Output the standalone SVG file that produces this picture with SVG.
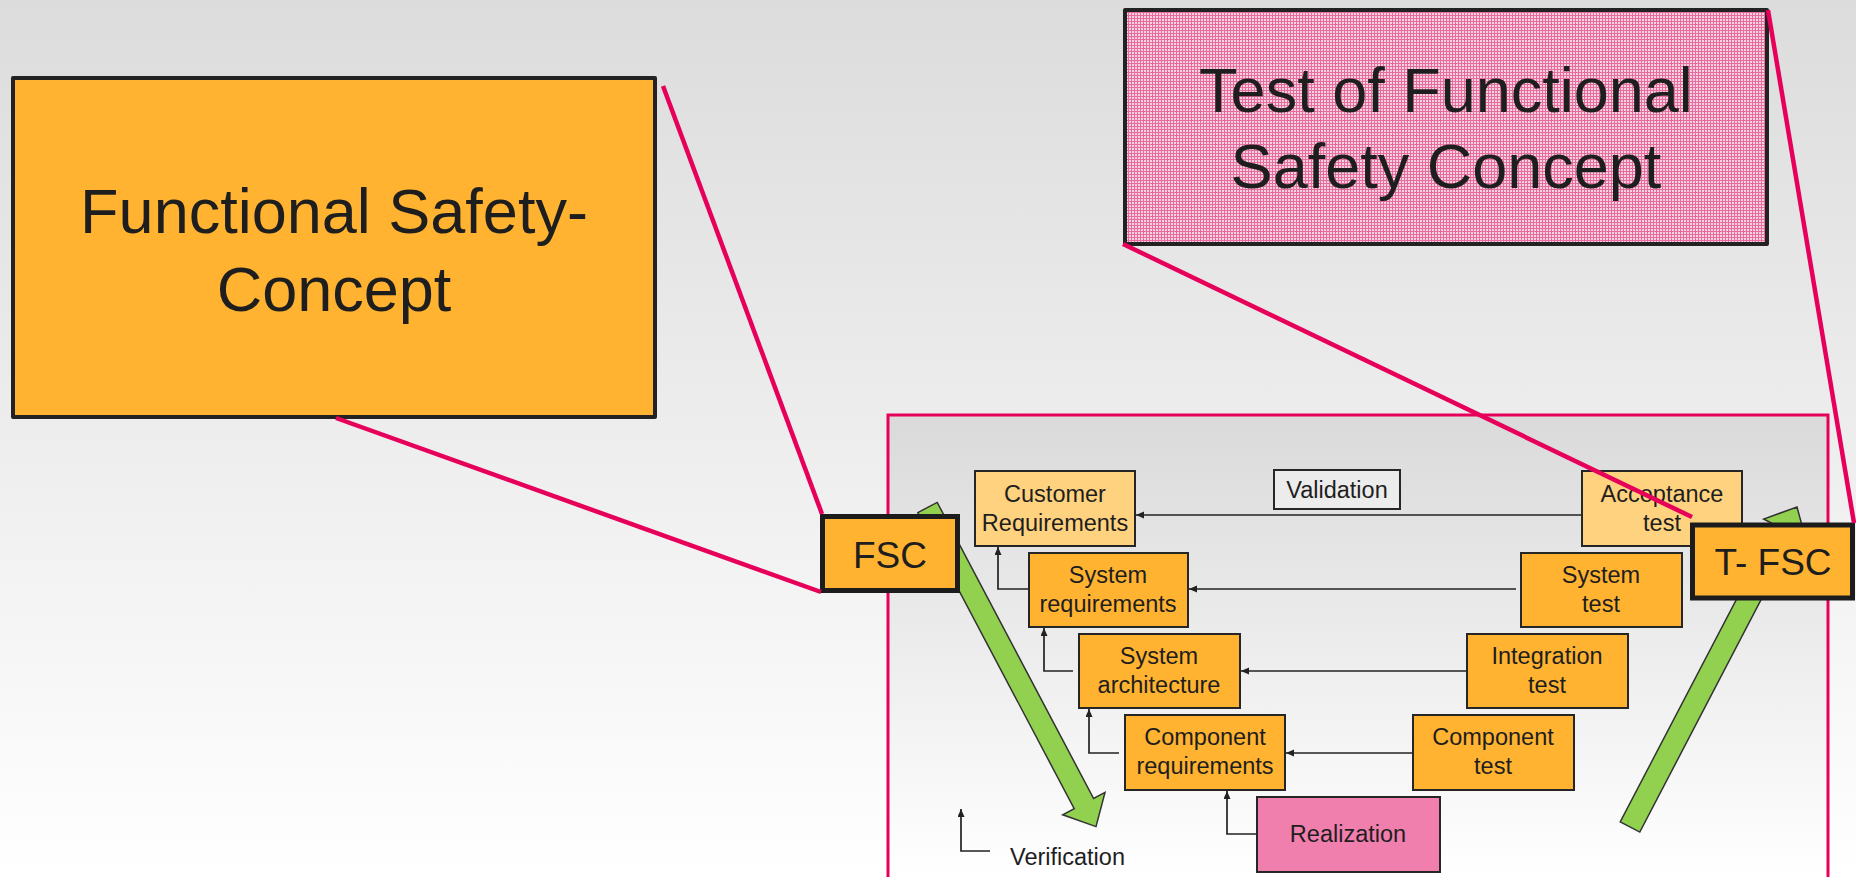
<svg xmlns="http://www.w3.org/2000/svg" width="1856" height="877" viewBox="0 0 1856 877">
<defs>
<linearGradient id="bg" x1="0" y1="0" x2="0" y2="877" gradientUnits="userSpaceOnUse">
<stop offset="0" stop-color="#dcdcdc"/>
<stop offset="1" stop-color="#ffffff"/>
</linearGradient>
<linearGradient id="fr" x1="0" y1="415" x2="0" y2="877" gradientUnits="userSpaceOnUse">
<stop offset="0" stop-color="#dadada"/>
<stop offset="1" stop-color="#ffffff"/>
</linearGradient>
<pattern id="hatch" x="0" y="0" width="3" height="3" patternUnits="userSpaceOnUse">
<rect width="3" height="3" fill="#f4d2df"/>
<rect width="3" height="1" fill="#e76b9c"/>
<rect width="1" height="3" fill="#e76b9c"/>
</pattern>
<marker id="ah" markerWidth="9" markerHeight="8" refX="8" refY="3.5" orient="auto" markerUnits="userSpaceOnUse">
<path d="M0,0 L8,3.5 L0,7 z" fill="#222"/>
</marker>
<style>
text{font-family:"Liberation Sans",Arial,Helvetica,sans-serif;fill:#1e1e1e;text-anchor:middle}
.sm{font-size:23.5px}
.big{font-size:63px}
.mid{font-size:37px}
.box{stroke:#262626;stroke-width:2}
.org{fill:#ffb330}
.lt{fill:#ffd27f}
.pk{fill:#f17fae}
.con{fill:none;stroke:#222;stroke-width:1.7;marker-end:url(#ah)}
.red{stroke:#e6005a;stroke-width:4.5;fill:none;stroke-linecap:butt}
.grn{fill:#92d050;stroke:#333;stroke-width:1.5;stroke-linejoin:miter}
.thick{stroke:#1c1c1c;stroke-width:5}
.bigbox{stroke:#222;stroke-width:4;stroke-linejoin:round}
</style>
</defs>
<rect width="1856" height="877" fill="url(#bg)"/>
<rect id="frame" x="888" y="415" width="940" height="480" fill="url(#fr)" stroke="#e6005a" stroke-width="3"/>

<g id="connectors">
<line class="con" x1="1582" y1="515" x2="1136" y2="515"/>
<line class="con" x1="1516" y1="589" x2="1189" y2="589"/>
<line class="con" x1="1467" y1="671" x2="1241" y2="671"/>
<line class="con" x1="1413" y1="753" x2="1286" y2="753"/>
<polyline class="con" points="1028,589 998,589 998,547"/>
<polyline class="con" points="1073,671 1044,671 1044,628"/>
<polyline class="con" points="1119,753 1089,753 1089,709"/>
<polyline class="con" points="1257,834 1227,834 1227,791"/>
<polyline class="con" points="990,851 961,851 961,809"/>
</g>

<g id="customer-requirements"><rect class="box lt" x="975" y="471" width="160" height="75"/><text class="sm" x="1055" y="502">Customer</text><text class="sm" x="1055" y="531">Requirements</text></g>
<g id="system-requirements"><rect class="box org" x="1029" y="553" width="159" height="74"/><text class="sm" x="1108" y="583">System</text><text class="sm" x="1108" y="612">requirements</text></g>
<g id="system-architecture"><rect class="box org" x="1079" y="634" width="161" height="74"/><text class="sm" x="1159" y="664">System</text><text class="sm" x="1159" y="693">architecture</text></g>
<g id="component-requirements"><rect class="box org" x="1125" y="715" width="160" height="75"/><text class="sm" x="1205" y="745">Component</text><text class="sm" x="1205" y="774">requirements</text></g>
<g id="realization"><rect class="box pk" x="1257" y="797" width="183" height="75"/><text class="sm" x="1348" y="842">Realization</text></g>
<g id="validation"><rect class="box" fill="#ececec" x="1274" y="470" width="126" height="39"/><text class="sm" x="1337" y="498">Validation</text></g>
<g id="acceptance-test"><rect class="box lt" x="1582" y="471" width="160" height="75"/><text class="sm" x="1662" y="502">Acceptance</text><text class="sm" x="1662" y="531">test</text></g>
<g id="system-test"><rect class="box org" x="1521" y="553" width="161" height="74"/><text class="sm" x="1601" y="583">System</text><text class="sm" x="1601" y="612">test</text></g>
<g id="integration-test"><rect class="box org" x="1467" y="634" width="161" height="74"/><text class="sm" x="1547" y="664">Integration</text><text class="sm" x="1547" y="693">test</text></g>
<g id="component-test"><rect class="box org" x="1413" y="715" width="161" height="75"/><text class="sm" x="1493" y="745">Component</text><text class="sm" x="1493" y="774">test</text></g>
<g id="verification"><text class="sm" x="1010" y="865" style="text-anchor:start">Verification</text></g>

<g id="arrow-down"><polygon class="grn" points="917.8,512.6 937.2,502.4 1093.6,798.5 1105,792.4 1096,826.6 1062.7,814.8 1074.2,808.7"/></g>
<g id="arrow-up"><polygon class="grn" points="1620.2,821.9 1639.8,832.1 1794.7,535.2 1806.3,541.2 1797,507 1763.7,519 1775.3,525"/></g>

<g id="fsc"><rect class="thick org" x="822.5" y="516.5" width="135" height="74"/><text class="mid" x="890" y="568">FSC</text></g>
<g id="t-fsc"><rect class="thick org" x="1692.5" y="525" width="160" height="73"/><text class="mid" x="1773" y="574.5">T- FSC</text></g>

<g id="functional-safety-concept"><rect class="bigbox org" x="13" y="78" width="642" height="339"/><text class="big" x="334" y="233">Functional Safety-</text><text class="big" x="334" y="311">Concept</text></g>
<g id="test-fsc"><rect class="bigbox" fill="url(#hatch)" x="1125" y="10" width="642" height="234"/><text class="big" x="1446" y="112">Test of Functional</text><text class="big" x="1446" y="188">Safety Concept</text></g>

<g id="callout-lines">
<line class="red" x1="663" y1="86" x2="822" y2="514"/>
<line class="red" x1="336" y1="418" x2="821" y2="592"/>
<line class="red" x1="1123" y1="244" x2="1692" y2="517"/>
<line class="red" x1="1768" y1="10" x2="1854" y2="523"/>
</g>
</svg>
